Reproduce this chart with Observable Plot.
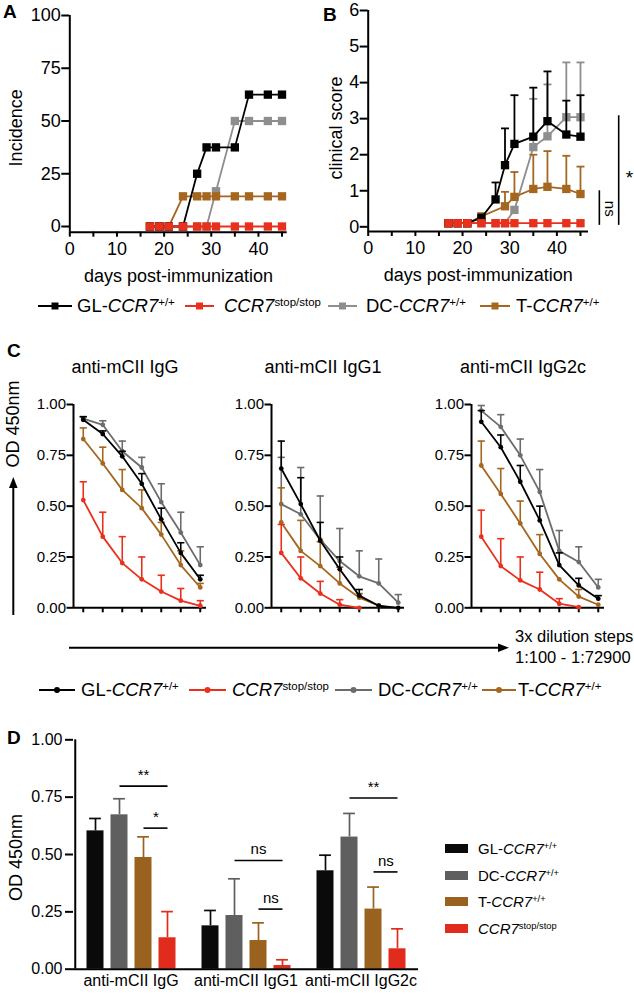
<!DOCTYPE html>
<html><head><meta charset="utf-8">
<script src="https://cdn.jsdelivr.net/npm/d3@7"></script>
<script src="https://cdn.jsdelivr.net/npm/@observablehq/plot@0.6"></script>
<style>
html,body{margin:0;padding:0;background:#fff;}
#fig{position:relative;width:634px;height:998px;overflow:hidden;font-family:'Liberation Sans',Arial,Helvetica,sans-serif;color:#000;background:#fff;}
.lbl{position:absolute;line-height:1;white-space:nowrap;}
.lbl sup{font-size:0.62em;vertical-align:0.55em;line-height:0;}
</style></head><body><div id="fig"></div>
<script>
// ---------------- DATA ----------------
const seriesKeys = ["GL", "stop", "DC", "T"];
const seriesLabels = {
  GL: 'GL-<i>CCR7</i><sup>+/+</sup>',
  stop: '<i>CCR7</i><sup>stop/stop</sup>',
  DC: 'DC-<i>CCR7</i><sup>+/+</sup>',
  T: 'T-<i>CCR7</i><sup>+/+</sup>'
};

// Panel A / B (days post-immunization)
const days = [17, 19, 21, 24, 27, 29, 31, 35, 38, 42, 45];
const incidenceGL   = [0, 0, 0, 0, 25, 37.5, 37.5, 37.5, 62.5, 62.5, 62.5];
const incidenceStop = [0, 0, 0, 0, 0, 0, 0, 0, 0, 0, 0];
const incidenceDC   = [0, 0, 0, 0, 0, 0, 16.7, 50, 50, 50, 50];
const incidenceT    = [0, 0, 0, 14.3, 14.3, 14.3, 14.3, 14.3, 14.3, 14.3, 14.3];

const scoreGL     = [0.1, 0.1, 0.1, 0.25, 0.76, 1.71, 2.3, 2.5, 2.93, 2.56, 2.5];
const scoreGLUp   = [null, null, null, null, 1.23, 2.73, 3.65, 3.86, 4.31, 3.5, 3.65];
const scoreStop   = [0.1, 0.1, 0.1, 0.1, 0.1, 0.1, 0.1, 0.1, 0.1, 0.1, 0.1];
const scoreDC     = [0.1, 0.1, 0.1, 0.1, 0.1, 0.1, 0.47, 2.21, 2.51, 3.04, 3.04];
const scoreDCUp   = [null, null, null, null, null, null, null, 3.55, 3.95, 4.56, 4.56];
const scoreT      = [0.1, 0.1, 0.1, 0.29, null, 0.57, 0.83, 1.05, 1.11, 1.05, 0.91];
const scoreTUp    = [null, null, null, null, null, 0.97, 1.52, 2.0, 2.1, 1.97, 1.67];

// significance marks panel B
const sigB = [
  {x: 49.0, y1: 0.04, y2: 1.0, label: "ns", lx: 51.2, ly: 0.5},
  {x: 53.1, y1: 0.04, y2: 3.08, label: "*", lx: 55.4, ly: 1.5}
];

// Panel C (3x dilution steps)
const dilutionSteps = [1, 2, 3, 4, 5, 6, 7];
const igg_GL     = [0.925, 0.855, 0.745, 0.61, 0.435, 0.27, 0.14];
const igg_GL_up  = [0.94, 0.87, 0.77, 0.66, 0.49, 0.32, 0.16];
const igg_stop   = [0.53, 0.35, 0.22, 0.14, 0.08, 0.035, 0.01];
const igg_stop_up= [0.62, 0.47, 0.35, 0.25, 0.16, 0.095, 0.035];
const igg_DC     = [0.93, 0.90, 0.77, 0.69, 0.52, 0.37, 0.21];
const igg_DC_up  = [0.94, 0.92, 0.82, 0.74, 0.61, 0.47, 0.30];
const igg_T      = [0.83, 0.71, 0.58, 0.49, 0.36, 0.21, 0.10];
const igg_T_up   = [0.885, 0.79, 0.68, 0.58, 0.42, 0.28, 0.12];

const igg1_GL     = [0.685, 0.51, 0.33, 0.19, 0.06, 0.01, 0];
const igg1_GL_up  = [0.82, 0.64, 0.42, 0.25, 0.09, null, null];
const igg1_stop   = [0.27, 0.145, 0.07, 0.015, 0];
const igg1_stop_up= [0.41, 0.25, 0.13, 0.04, null];
const igg1_DC     = [0.51, 0.46, 0.335, 0.23, 0.155, 0.12, 0.025];
const igg1_DC_up  = [0.74, 0.69, 0.55, 0.39, 0.28, 0.24, 0.065];
const igg1_T      = [0.42, 0.28, 0.205, 0.12, 0.05, 0.01];
const igg1_T_up   = [0.59, 0.43, 0.325, 0.2, 0.07, null];

const igg2c_GL     = [0.915, 0.79, 0.62, 0.43, 0.21, 0.11, 0.045];
const igg2c_GL_up  = [0.97, 0.85, 0.70, 0.50, 0.27, 0.145, 0.06];
const igg2c_stop   = [0.35, 0.205, 0.135, 0.09, 0.02, 0.003];
const igg2c_stop_up= [0.48, 0.34, 0.25, 0.175, 0.045, null];
const igg2c_DC     = [0.97, 0.89, 0.75, 0.57, 0.28, 0.225, 0.10];
const igg2c_DC_up  = [0.995, 0.95, 0.83, 0.68, 0.38, 0.30, 0.14];
const igg2c_T      = [0.70, 0.56, 0.415, 0.265, 0.14, 0.055, 0.015];
const igg2c_T_up   = [0.82, 0.685, 0.525, 0.36, null, 0.09, null];

// Panel D (bars)
const groupsD = ["anti-mCII IgG", "anti-mCII IgG1", "anti-mCII IgG2c"];
const seriesD = ["GL", "DC", "T", "stop"];
const barGL     = [0.603, 0.189, 0.429];
const barGLUp   = [0.657, 0.256, 0.497];
const barDC     = [0.673, 0.234, 0.576];
const barDCUp   = [0.743, 0.394, 0.679];
const barT      = [0.487, 0.125, 0.262];
const barTUp    = [0.577, 0.202, 0.358];
const barStop   = [0.137, 0.016, 0.089];
const barStopUp = [0.251, 0.041, 0.176];
const sigD = [
  {group: "anti-mCII IgG",   from: "DC", to: "stop", y: 0.798, label: "**"},
  {group: "anti-mCII IgG",   from: "T",  to: "stop", y: 0.615, label: "*"},
  {group: "anti-mCII IgG1",  from: "DC", to: "stop", y: 0.474, label: "ns"},
  {group: "anti-mCII IgG1",  from: "T",  to: "stop", y: 0.262, label: "ns"},
  {group: "anti-mCII IgG2c", from: "DC", to: "stop", y: 0.746, label: "**"},
  {group: "anti-mCII IgG2c", from: "T",  to: "stop", y: 0.424, label: "ns"}
];

// ---------------- STYLE ----------------
const FONT = "'Liberation Sans', Arial, Helvetica, sans-serif";
const colorsAB = {GL: "#000000", stop: "#e8301c", DC: "#8e8e8e", T: "#a5661f"};
const colorsC  = {GL: "#000000", stop: "#e8301c", DC: "#6c6c6c", T: "#a5661f"};
const colorsD  = {GL: "#0a0a0a", DC: "#5f5f5f", T: "#9a621f", stop: "#e02b1d"};
const scaleOf = (c) => ({domain: seriesKeys, range: seriesKeys.map(k => c[k])});

const fig = document.getElementById("fig");
const svgNS = "http://www.w3.org/2000/svg";

function put(node, left, top) {
  node.style.position = "absolute";
  node.style.left = left + "px";
  node.style.top = top + "px";
  fig.appendChild(node);
  return node;
}
function label(html, x, yc, fs, opt = {}) {
  const d = document.createElement("div");
  d.className = "lbl";
  d.innerHTML = html;
  d.style.fontSize = fs + "px";
  if (opt.bold) d.style.fontWeight = "bold";
  put(d, x, yc - 0.49 * fs);
  return d;
}
const hline = {draw(ctx, size) { const r = Math.sqrt(size / Math.PI); ctx.moveTo(-r, 0); ctx.lineTo(r, 0); }};

function toRows(xs, xKey, list) {
  const out = [];
  for (const [key, means, ups] of list) {
    means.forEach((v, i) => {
      if (v != null) out.push({[xKey]: xs[i], value: v, upper: ups ? ups[i] : null, series: key});
    });
  }
  return out;
}
function seriesMarks(rows, xKey, order, o) {
  const marks = [];
  for (const k of order) {
    const rs = rows.filter(d => d.series === k);
    const errs = rs.filter(d => d.upper != null);
    if (errs.length) {
      marks.push(Plot.ruleX(errs, {x: xKey, y1: "value", y2: "upper", stroke: "series", strokeWidth: o.errWidth}));
      marks.push(Plot.dot(errs, {x: xKey, y: "upper", symbol: hline, r: o.capR, stroke: "series", fill: "none", strokeWidth: o.errWidth}));
    }
    marks.push(Plot.line(rs, {x: xKey, y: "value", stroke: "series", strokeWidth: o.lineWidth}));
    marks.push(Plot.dot(rs, {x: xKey, y: "value", symbol: o.symbol, r: o.r, fill: "series", stroke: "none"}));
  }
  return marks;
}
const baseStyle = (fs) => ({fontFamily: FONT, fontSize: fs + "px", background: "transparent", overflow: "visible", color: "#000"});

// ---------------- PANEL A ----------------
{
  const rows = toRows(days, "day", [["DC", incidenceDC], ["T", incidenceT], ["GL", incidenceGL], ["stop", incidenceStop]]);
  const xMax = 46.1, yMin = -2.7;
  const p = Plot.plot({
    width: 300, height: 290, marginLeft: 69.3, marginRight: 300 - 286.7, marginTop: 15, marginBottom: 290 - 231.7,
    style: baseStyle(18),
    x: {domain: [0, xMax]},
    y: {domain: [yMin, 100]},
    color: scaleOf(colorsAB),
    marks: [
      Plot.axisX({ticks: d3.range(0, 46, 5), tickSize: 5, tickPadding: 5, tickFormat: d => d % 10 === 0 ? String(d) : "", strokeWidth: 2, label: null, fontSize: 18}),
      Plot.axisY({ticks: [0, 25, 50, 75, 100], tickFormat: d => String(d), tickSize: 8, tickPadding: 1, strokeWidth: 2, label: null, fontSize: 18}),
      Plot.ruleX([0], {y1: yMin, y2: 100, strokeWidth: 2}),
      Plot.ruleY([yMin], {x1: 0, x2: xMax, strokeWidth: 2}),
      ...seriesMarks(rows, "day", ["DC", "T", "GL", "stop"], {symbol: "square", r: 4.7, lineWidth: 1.8, errWidth: 1.8, capR: 4}),
      Plot.text(["days post-immunization"], {text: d => d, frameAnchor: "bottom", lineAnchor: "middle", textAnchor: "middle", dy: 44, fontSize: 18}),
      Plot.text(["Incidence"], {text: d => d, frameAnchor: "left", textAnchor: "middle", lineAnchor: "middle", dx: -54, dy: 4, rotate: -90, fontSize: 18})
    ]
  });
  put(p, 0, 0);
}

// ---------------- PANEL B ----------------
{
  const rows = toRows(days, "day", [["DC", scoreDC, scoreDCUp], ["T", scoreT, scoreTUp], ["GL", scoreGL, scoreGLUp], ["stop", scoreStop]]);
  const xMax = 46.7, yMin = -0.13;
  const p = Plot.plot({
    width: 324, height: 290, marginLeft: 57.7, marginRight: 324 - 278, marginTop: 10, marginBottom: 290 - 231,
    style: baseStyle(18),
    x: {domain: [0, xMax]},
    y: {domain: [yMin, 6]},
    color: scaleOf(colorsAB),
    marks: [
      Plot.axisX({ticks: d3.range(0, 46, 5), tickSize: 5, tickPadding: 5, tickFormat: d => d % 10 === 0 ? String(d) : "", strokeWidth: 2, label: null, fontSize: 18}),
      Plot.axisY({ticks: [0, 1, 2, 3, 4, 5, 6], tickFormat: d => String(d), tickSize: 8, tickPadding: 1, strokeWidth: 2, label: null, fontSize: 18}),
      Plot.ruleX([0], {y1: yMin, y2: 6, strokeWidth: 2}),
      Plot.ruleY([yMin], {x1: 0, x2: xMax, strokeWidth: 2}),
      ...seriesMarks(rows, "day", ["DC", "T", "GL", "stop"], {symbol: "square", r: 4.7, lineWidth: 1.8, errWidth: 1.8, capR: 4}),
      Plot.ruleX(sigB, {x: "x", y1: "y1", y2: "y2", strokeWidth: 1.6}),
      Plot.text(sigB.filter(d => d.label !== "*"), {x: "lx", y: "ly", text: "label", rotate: 90, fontSize: 15}),
      Plot.text(sigB.filter(d => d.label === "*"), {x: "lx", y: "ly", text: "label", dy: 5, fontSize: 19}),
      Plot.text(["days post-immunization"], {text: d => d, frameAnchor: "bottom", lineAnchor: "middle", textAnchor: "middle", dy: 44, fontSize: 18}),
      Plot.text(["clinical score"], {text: d => d, frameAnchor: "left", textAnchor: "middle", lineAnchor: "middle", dx: -32, dy: 7, rotate: -90, fontSize: 18})
    ]
  });
  put(p, 310, 0);
}

// ---------------- LEGENDS (line) ----------------
function lineLegend(yc, layout, colors, marker, fs) {
  seriesKeys.forEach((k, i) => {
    const [x1, x2, tx] = layout[i];
    const w = x2 - x1;
    const s = document.createElementNS(svgNS, "svg");
    s.setAttribute("width", w); s.setAttribute("height", 12);
    const ln = document.createElementNS(svgNS, "line");
    ln.setAttribute("x1", 0); ln.setAttribute("x2", w); ln.setAttribute("y1", 6); ln.setAttribute("y2", 6);
    ln.setAttribute("stroke", colors[k]); ln.setAttribute("stroke-width", 2);
    s.appendChild(ln);
    let m;
    if (marker === "square") {
      m = document.createElementNS(svgNS, "rect");
      m.setAttribute("x", w / 2 - 3.5); m.setAttribute("y", 2.5); m.setAttribute("width", 7); m.setAttribute("height", 7);
    } else {
      m = document.createElementNS(svgNS, "circle");
      m.setAttribute("cx", w / 2); m.setAttribute("cy", 6); m.setAttribute("r", 3);
    }
    m.setAttribute("fill", colors[k]);
    s.appendChild(m);
    put(s, x1, yc - 6);
    label(seriesLabels[k], tx, yc, fs);
  });
}
lineLegend(306, [[38, 72, 77], [185, 214, 224], [328, 357, 366], [480, 510, 516]], colorsAB, "square", 18.5);

// ---------------- PANEL C ----------------
function panelC(title, list, left) {
  const rows = toRows(dilutionSteps, "step", list);
  const xMax = 7.32;
  const p = Plot.plot({
    width: 213, height: 290, marginLeft: 70, marginRight: 10, marginTop: 64, marginBottom: 290 - 267.3,
    style: baseStyle(15),
    x: {domain: [0.5, xMax]},
    y: {domain: [0, 1]},
    color: scaleOf(colorsC),
    marks: [
      Plot.axisX({ticks: dilutionSteps, tickSize: 5, tickFormat: () => "", strokeWidth: 2, label: null}),
      Plot.axisY({ticks: [0, 0.25, 0.5, 0.75, 1], tickFormat: d3.format(".2f"), tickSize: 6.5, tickPadding: 1, strokeWidth: 2, label: null, fontSize: 15}),
      Plot.ruleX([0.5], {y1: 0, y2: 1, strokeWidth: 2}),
      Plot.ruleY([0], {x1: 0.5, x2: xMax, strokeWidth: 2}),
      ...seriesMarks(rows, "step", ["DC", "T", "GL", "stop"], {symbol: "circle", r: 2.4, lineWidth: 1.8, errWidth: 1.6, capR: 3.6}),
      Plot.text([title], {text: d => d, frameAnchor: "top", lineAnchor: "middle", textAnchor: "middle", dy: -37, dx: -15, fontSize: 18})
    ]
  });
  put(p, left, 340);
}
panelC("anti-mCII IgG", [["DC", igg_DC, igg_DC_up], ["T", igg_T, igg_T_up], ["GL", igg_GL, igg_GL_up], ["stop", igg_stop, igg_stop_up]], 3);
panelC("anti-mCII IgG1", [["DC", igg1_DC, igg1_DC_up], ["T", igg1_T, igg1_T_up], ["GL", igg1_GL, igg1_GL_up], ["stop", igg1_stop, igg1_stop_up]], 201);
panelC("anti-mCII IgG2c", [["DC", igg2c_DC, igg2c_DC_up], ["T", igg2c_T, igg2c_T_up], ["GL", igg2c_GL, igg2c_GL_up], ["stop", igg2c_stop, igg2c_stop_up]], 400.7);

// arrows and axis caption for panel C
{
  const s = document.createElementNS(svgNS, "svg");
  s.setAttribute("width", 634); s.setAttribute("height", 998);
  s.style.pointerEvents = "none";
  s.innerHTML = `
    <line x1="13.3" y1="615" x2="13.3" y2="486" stroke="#000" stroke-width="2"/>
    <polygon points="13.3,477 9,488 17.6,488" fill="#000"/>
    <line x1="69" y1="647.7" x2="499" y2="647.7" stroke="#000" stroke-width="2"/>
    <polygon points="509,647.7 498,643.4 498,652" fill="#000"/>
    <text transform="translate(13,424) rotate(-90)" text-anchor="middle" dy="0.35em" font-size="18" font-family="${FONT}">OD 450nm</text>`;
  put(s, 0, 0);
}
label("3x dilution steps", 515, 636, 16.5);
label("1:100 - 1:72900", 515, 657, 16.5);
lineLegend(690, [[39, 75, 81], [189, 226, 232], [335, 372, 378], [482, 516, 518]], colorsC, "circle", 18.5);

// ---------------- PANEL D ----------------
{
  const means = {GL: barGL, DC: barDC, T: barT, stop: barStop};
  const ups = {GL: barGLUp, DC: barDCUp, T: barTUp, stop: barStopUp};
  const rows = seriesD.flatMap(k => groupsD.map((g, i) => ({group: g, series: k, value: means[k][i], upper: ups[k][i]})));
  const facetW = 115, padIn = 0.3, padOut = 0.478;
  const step = facetW / (seriesD.length - padIn + 2 * padOut);
  const bw = step * (1 - padIn);
  const idx = (k) => seriesD.indexOf(k);
  const evenSpan = sigD.filter(d => (idx(d.to) - idx(d.from)) % 2 === 0);
  const oddSpan = sigD.filter(d => (idx(d.to) - idx(d.from)) % 2 === 1);
  const p = Plot.plot({
    width: 420, height: 298, marginLeft: 72.5, marginRight: 2.5, marginTop: 39.3, marginBottom: 298 - 268.7,
    style: baseStyle(16),
    fx: {domain: groupsD, padding: 0},
    x: {domain: seriesD, paddingInner: padIn, paddingOuter: padOut, axis: null},
    y: {domain: [0, 1]},
    color: {domain: seriesD, range: seriesD.map(k => colorsD[k])},
    marks: [
      Plot.barY(rows, {fx: "group", x: "series", y: "value", fill: "series"}),
      Plot.ruleX(rows, {fx: "group", x: "series", y1: "value", y2: "upper", stroke: "series", strokeWidth: 1.7}),
      Plot.tickY(rows, {fx: "group", x: "series", y: "upper", stroke: "series", strokeWidth: 1.7, insetLeft: 2.6, insetRight: 2.6}),
      Plot.ruleY([0], {strokeWidth: 2}),
      Plot.ruleX([groupsD[0]], {fx: d => d, x: () => seriesD[0], y1: 0, y2: 1, dx: -(padOut * step + bw / 2) + 0.2, strokeWidth: 2}),
      Plot.axisY({ticks: [0, 0.25, 0.5, 0.75, 1], tickFormat: d3.format(".2f"), tickSize: 8, tickPadding: 3, strokeWidth: 2, label: null, fontSize: 16}),
      Plot.axisFx({anchor: "bottom", tickSize: 0, tickPadding: 5, label: null, fontSize: 16}),
      Plot.link(sigD, {fx: "group", x1: "from", x2: "to", y1: "y", y2: "y", strokeWidth: 1.6}),
      Plot.text(evenSpan, {fx: "group", x: d => seriesD[(idx(d.from) + idx(d.to)) / 2], y: "y", text: "label", dy: -11, fontSize: 15}),
      Plot.text(oddSpan, {fx: "group", x: d => d.from, y: "y", text: "label", dx: step / 2, dy: -11, fontSize: 15}),
      Plot.text([groupsD[0]], {fx: d => d, text: () => "OD 450nm", frameAnchor: "left", textAnchor: "middle", lineAnchor: "middle", dx: -57.5, dy: 3, rotate: -90, fontSize: 18})
    ]
  });
  put(p, 0, 700);
}

// legend D (swatches)
{
  const order = ["GL", "DC", "T", "stop"];
  const rowsY = [848, 875, 901, 928];
  order.forEach((k, i) => {
    const sw = document.createElement("div");
    sw.style.width = "23px"; sw.style.height = "9px"; sw.style.background = colorsD[k];
    put(sw, 445, rowsY[i] - 4.5);
    label(seriesLabels[k], 478, rowsY[i], 15);
  });
}

// panel letters
label("A", 3, 11, 19, {bold: true});
label("B", 323, 14, 19, {bold: true});
label("C", 7, 350, 19, {bold: true});
label("D", 7, 737, 19, {bold: true});
</script></body></html>
